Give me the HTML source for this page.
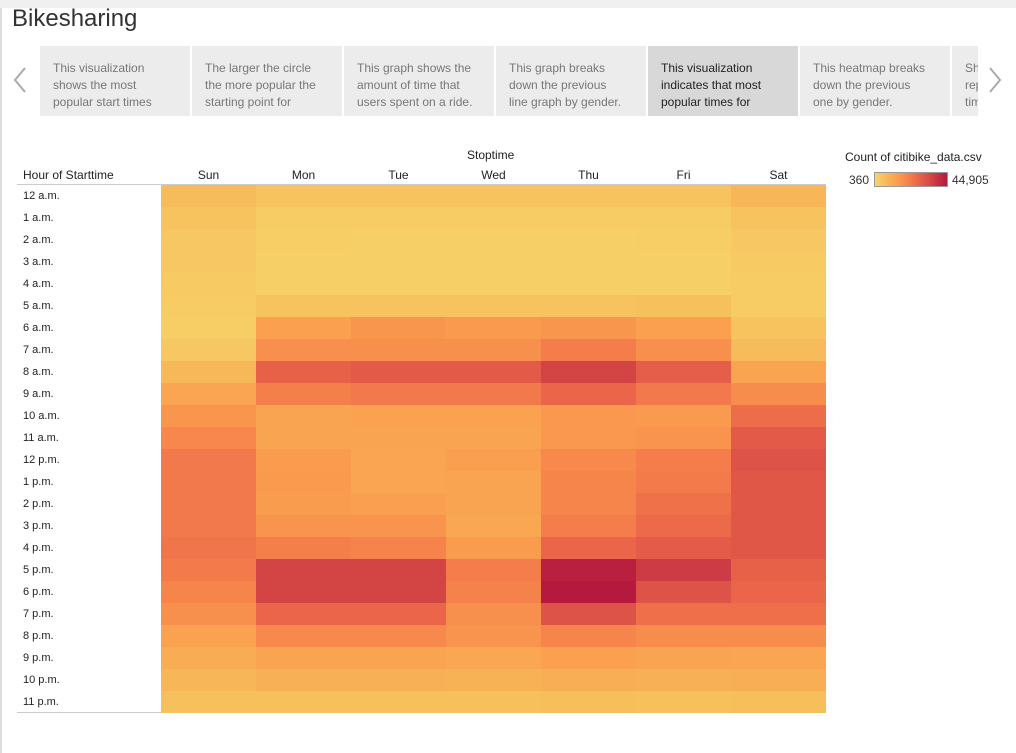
<!DOCTYPE html>
<html><head><meta charset="utf-8">
<style>
body{margin:0;width:1016px;height:753px;background:#fff;font-family:"Liberation Sans",sans-serif;position:relative;overflow:hidden}
.abs{position:absolute}
.tab{position:absolute;top:46px;height:70px;width:150px;background:#ececec;color:#777;font-size:12px;line-height:17px;padding:14px 0 0 13px;box-sizing:border-box;overflow:hidden}
.tab.sel{background:#d8d8d8;color:#222}
.rl{position:absolute;left:23px;font-size:11px;color:#222}
.ch{position:absolute;top:168px;font-size:12px;color:#222;width:95px;text-align:center}
</style></head><body>
<div class="abs" style="left:0;top:0;width:1016px;height:8px;background:#f0f0f0"></div>
<div class="abs" style="left:0;top:8px;width:2px;height:745px;background:#ddd"></div>
<div class="abs" style="left:12px;top:5px;font-size:24px;color:#333">Bikesharing</div>
<svg class="abs" style="left:12px;top:66px" width="16" height="28"><polyline points="13,2 3,14 13,26" fill="none" stroke="#aaa" stroke-width="2"/></svg>
<svg class="abs" style="left:987px;top:66px" width="16" height="28"><polyline points="3,2 13,14 3,26" fill="none" stroke="#aaa" stroke-width="2"/></svg>
<div class="tab" style="left:40px">This visualization<br>shows the most<br>popular start times</div>
<div class="tab" style="left:192px">The larger the circle<br>the more popular the<br>starting point for</div>
<div class="tab" style="left:344px">This graph shows the<br>amount of time that<br>users spent on a ride.</div>
<div class="tab" style="left:496px">This graph breaks<br>down the previous<br>line graph by gender.</div>
<div class="tab sel" style="left:648px">This visualization<br>indicates that most<br>popular times for</div>
<div class="tab" style="left:800px">This heatmap breaks<br>down the previous<br>one by gender.</div>
<div class="tab" style="left:952px;width:26px">Sh<br>rep<br>tim</div>
<div class="abs" style="left:467px;top:148px;font-size:12px;color:#222">Stoptime</div>
<div class="abs" style="left:23px;top:168px;font-size:12px;color:#222">Hour of Starttime</div>
<div class="abs" style="left:17px;top:184px;width:809px;height:1px;background:#ccc"></div>
<div class="abs" style="left:17px;top:712px;width:809px;height:1px;background:#ccc"></div>
<div class="abs" style="left:845px;top:150px;font-size:12px;color:#222">Count of citibike_data.csv</div>
<div class="abs" style="left:849px;top:173px;font-size:12px;color:#333">360</div>
<div class="abs" style="left:874px;top:172px;width:72px;height:13px;border:1px solid #999;background:linear-gradient(90deg,#f7d46a,#f6bb5a 15%,#faa04f 30%,#f6834b 45%,#ea654a 60%,#d74a46 75%,#c42f43 88%,#b51a3e)"></div>
<div class="abs" style="left:952px;top:173px;font-size:12px;color:#333">44,905</div>
<div id="chart"></div>
<script>
const days=["Sun","Mon","Tue","Wed","Thu","Fri","Sat"];
const hours=["12 a.m.","1 a.m.","2 a.m.","3 a.m.","4 a.m.","5 a.m.","6 a.m.","7 a.m.","8 a.m.","9 a.m.","10 a.m.","11 a.m.","12 p.m.","1 p.m.","2 p.m.","3 p.m.","4 p.m.","5 p.m.","6 p.m.","7 p.m.","8 p.m.","9 p.m.","10 p.m.","11 p.m."];
// counts in thousands
const counts=[
[7.0,4.8,4.8,4.8,4.8,4.8,8.4],
[4.8,2.6,2.6,2.6,2.6,2.6,4.8],
[3.9,2.1,1.7,1.7,1.7,2.1,3.9],
[3.9,1.7,1.7,1.7,1.7,1.7,3.0],
[3.0,1.7,1.7,1.7,1.7,1.7,2.6],
[2.6,4.8,4.8,4.8,4.8,5.7,2.6],
[2.1,13.7,16.0,15.0,16.0,13.7,4.8],
[3.9,17.3,17.3,17.3,21.7,17.3,7.0],
[7.9,28.0,29.7,29.7,35.1,28.8,12.8],
[12.4,21.3,22.6,22.6,27.1,22.6,18.2],
[16.0,12.8,13.3,13.3,15.5,15.0,25.3],
[19.5,12.8,12.8,12.8,15.5,16.4,29.7],
[22.6,14.6,12.4,14.2,19.0,21.7,31.5],
[22.6,15.0,12.4,12.8,20.0,22.2,30.6],
[22.6,14.6,14.2,12.8,20.0,24.4,30.6],
[22.6,16.4,16.4,11.9,21.7,26.2,30.6],
[23.5,21.3,20.4,14.6,27.1,29.3,30.6],
[22.2,35.1,35.1,21.7,43.5,36.9,28.0],
[20.0,35.1,35.1,20.8,44.9,31.5,27.1],
[17.3,27.1,27.1,17.3,31.5,24.8,24.8],
[13.3,19.0,19.0,16.4,20.0,18.2,18.2],
[10.6,12.8,12.8,11.9,13.7,12.8,12.4],
[8.4,9.7,9.7,9.3,10.2,9.7,10.2],
[5.7,5.7,5.7,5.7,6.1,5.7,6.1]];
const vmin=0.36,vmax=44.905;
const x0=161,cw=95,y0=185,rh=22;
const xs=i=>x0+i*cw, ys=j=>y0+j*rh;
const stops=[[0,"#f7d46a"],[0.15,"#f6bb5a"],[0.3,"#faa04f"],[0.45,"#f6834b"],[0.6,"#ea654a"],[0.75,"#d74a46"],[0.88,"#c42f43"],[1,"#b51a3e"]];
function hex(h){return [1,3,5].map(k=>parseInt(h.substr(k,2),16));}
function color(v){let t=Math.max(0,Math.min(1,(v-vmin)/(vmax-vmin)));
for(let k=1;k<stops.length;k++){if(t<=stops[k][0]){const a=hex(stops[k-1][1]),b=hex(stops[k][1]);const f=(t-stops[k-1][0])/(stops[k][0]-stops[k-1][0]);return "rgb("+a.map((c,i)=>Math.round(c+(b[i]-c)*f)).join(",")+")";}}return stops[stops.length-1][1];}
const root=document.getElementById('chart');
days.forEach((d,i)=>{const e=document.createElement('div');e.className='ch';e.style.left=xs(i)+'px';e.textContent=d;


root.appendChild(e);});
hours.forEach((h,j)=>{const e=document.createElement('div');e.className='rl';e.style.top=(ys(j)+5)+'px';e.textContent=h;


root.appendChild(e);
counts[j].forEach((v,i)=>{const c=document.createElement('div');c.className='abs';
c.style.cssText='left:'+xs(i)+'px;top:'+ys(j)+'px;width:'+cw+'px;height:'+rh+'px;background:'+color(v);


root.appendChild(c);});});
</script>
</body></html>
